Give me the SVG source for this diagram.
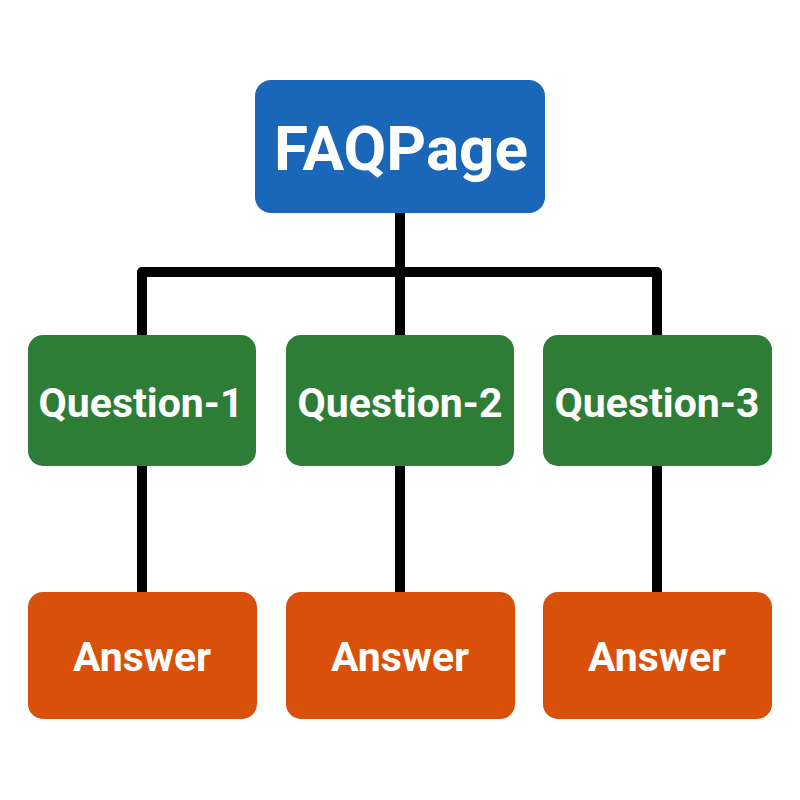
<svg xmlns="http://www.w3.org/2000/svg" width="800" height="800" viewBox="0 0 800 800">
<style>
.ln{fill:none;stroke:#000;stroke-width:10;stroke-linejoin:round}
.lbl{font-family:Roboto,"Liberation Sans",sans-serif;font-weight:bold;fill:#fff;text-anchor:middle}
.root{fill:#1a66b9}
.q{fill:#2e7d36}
.a{fill:#d9500a}
</style>
<rect width="800" height="800" fill="#fff"/>
<g id="connectors">
<path class="ln" d="M400,213 V335"/>
<path class="ln" d="M142,335 V272 H657 V335"/>
<path class="ln" d="M142,466 V592"/>
<path class="ln" d="M400,466 V592"/>
<path class="ln" d="M657,466 V592"/>
</g>
<g id="faqpage">
<rect class="root" x="255" y="80" width="290" height="133" rx="16"/>
<text class="lbl" x="401" y="170" font-size="62">FAQPage</text>
</g>
<g id="question1">
<rect class="q" x="28" y="335" width="228" height="131" rx="15"/>
<text class="lbl" x="141" y="417" font-size="41">Question-1</text>
</g>
<g id="question2">
<rect class="q" x="286" y="335" width="228" height="131" rx="15"/>
<text class="lbl" x="400" y="417" font-size="41">Question-2</text>
</g>
<g id="question3">
<rect class="q" x="543" y="335" width="229" height="131" rx="15"/>
<text class="lbl" x="657" y="417" font-size="41">Question-3</text>
</g>
<g id="answer1">
<rect class="a" x="28" y="592" width="229" height="127" rx="15"/>
<text class="lbl" x="142" y="671" font-size="41">Answer</text>
</g>
<g id="answer2">
<rect class="a" x="286" y="592" width="229" height="127" rx="15"/>
<text class="lbl" x="400" y="671" font-size="41">Answer</text>
</g>
<g id="answer3">
<rect class="a" x="543" y="592" width="229" height="127" rx="15"/>
<text class="lbl" x="657" y="671" font-size="41">Answer</text>
</g>
</svg>
